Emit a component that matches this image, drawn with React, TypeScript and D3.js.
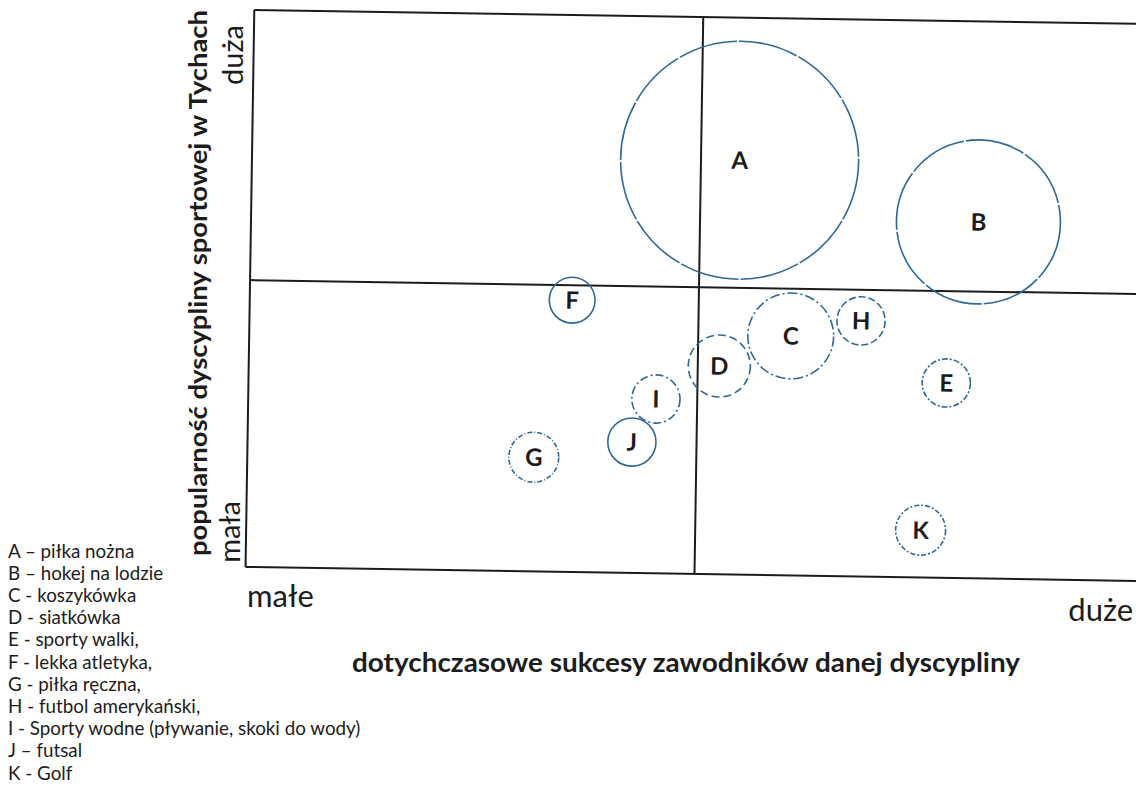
import React from 'react'
import * as d3 from 'd3'

// dyscypliny: pozycja (sukcesy, popularność) i wielkość koła
const labels = ['A', 'B', 'C', 'D', 'E', 'F', 'G', 'H', 'I', 'J', 'K']
const successValues = [54.3, 81.0, 60.3, 52.4, 77.7, 35.9, 31.9, 68.1, 45.4, 42.8, 75.1]
const popularityValues = [74.4, 64.0, 43.0, 37.4, 35.0, 48.8, 20.5, 45.9, 31.3, 23.5, 8.5]
const sizeValues = [100, 47.5, 13, 6.8, 4.1, 3.7, 4.4, 4.1, 4.1, 4.1, 4.4]

const legendItems = [
  'A – piłka nożna',
  'B – hokej na lodzie',
  'C - koszykówka',
  'D - siatkówka',
  'E - sporty walki,',
  'F - lekka atletyka,',
  'G - piłka ręczna,',
  'H - futbol amerykański,',
  'I - Sporty wodne (pływanie, skoki do wody)',
  'J – futsal',
  'K - Golf'
]

// granice ćwiartek
const xSplit = 50
const ySplit = 51.5

const dashes: Record<string, string> = {
  A: '60 2', B: '60 2', C: '10 3 2 3', D: '8 4', E: '6 2 2 2', F: 'none',
  G: '5 2 1 2', H: '7 3', I: '8 3 2 3', J: 'none', K: '5 2 2 2'
}

const W = 1136
const H = 789
const font = 'Lato, "Open Sans", sans-serif'
const ink = '#1c1c1c'
const circleColor = '#2f6896'

export default function App() {
  const x = d3.scaleLinear().domain([0, 100]).range([250, 1148])
  const y = d3.scaleLinear().domain([0, 100]).range([574, 17])
  const r = d3.scaleSqrt().domain([0, 100]).range([0, 119])

  const data = labels.map((l, i) => ({
    label: l,
    success: successValues[i],
    popularity: popularityValues[i],
    size: sizeValues[i]
  }))

  const legendY = d3.scalePoint<string>().domain(labels).range([551, 773])

  // skan jest lekko obrócony
  const cx = x(xSplit), cy = y(ySplit)

  return (
    <svg width={W} height={H} style={{ position: 'absolute', left: 0, top: 0, background: '#fff' }}>
      <g transform={`rotate(0.9, ${cx}, ${cy})`}>
        <g stroke={ink} strokeWidth={2} fill="none">
          <line x1={x(0)} x2={x(100)} y1={y(100)} y2={y(100)} />
          <line x1={x(0)} x2={x(100)} y1={y(0)} y2={y(0)} />
          <line x1={x(0)} x2={x(0)} y1={y(0)} y2={y(100)} />
          <line x1={x(xSplit)} x2={x(xSplit)} y1={y(0)} y2={y(100)} />
          <line x1={x(0)} x2={x(100)} y1={y(ySplit)} y2={y(ySplit)} />
        </g>
        {data.map(d => (
          <g key={d.label}>
            <circle
              cx={x(d.success)}
              cy={y(d.popularity)}
              r={r(d.size)}
              fill="none"
              stroke={circleColor}
              strokeWidth={1.6}
              strokeDasharray={dashes[d.label]}
            />
            <text
              x={x(d.success)}
              y={y(d.popularity)}
              dy="0.36em"
              textAnchor="middle"
              fontFamily={font}
              fontWeight="bold"
              fontSize={24}
              fill={ink}
            >
              {d.label}
            </text>
          </g>
        ))}
      </g>

      <text
        transform="translate(207, 283) rotate(-90)"
        textAnchor="middle"
        fontFamily={font}
        fontWeight="bold"
        fontSize={25}
        fill={ink}
        textLength={546}
        lengthAdjust="spacingAndGlyphs"
      >
        popularność dyscypliny sportowej  w Tychach
      </text>
      <text transform="translate(243, 55) rotate(-90)" textAnchor="middle" fontFamily={font} fontSize={29} fill={ink}>
        duża
      </text>
      <text transform="translate(240, 532) rotate(-90)" textAnchor="middle" fontFamily={font} fontSize={29} fill={ink}>
        mała
      </text>
      <text x={247} y={607} fontFamily={font} fontSize={31} fill={ink}>małe</text>
      <text x={1133} y={621} textAnchor="end" fontFamily={font} fontSize={31} fill={ink}>duże</text>
      <text
        x={686}
        y={672}
        textAnchor="middle"
        fontFamily={font}
        fontWeight="bold"
        fontSize={26}
        fill={ink}
        textLength={668}
        lengthAdjust="spacingAndGlyphs"
      >
        dotychczasowe sukcesy zawodników danej dyscypliny
      </text>

      {legendItems.map((t, i) => (
        <text key={t} x={8} y={legendY(labels[i])} dy="0.35em" fontFamily={font} fontSize={18.8} fill={ink}>
          {t}
        </text>
      ))}
    </svg>
  )
}
